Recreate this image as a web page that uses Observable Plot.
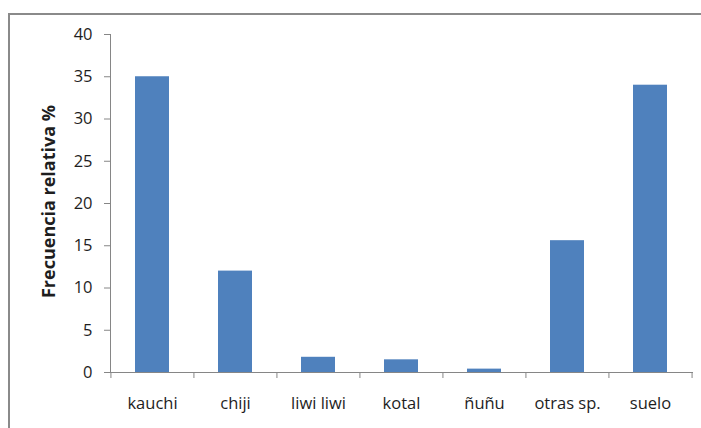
<!DOCTYPE html>
<html>
<head>
<meta charset="utf-8">
<script src="https://cdn.jsdelivr.net/npm/d3@7"></script>
<script src="https://cdn.jsdelivr.net/npm/@observablehq/plot@0.6"></script>
<style>
  html, body { margin: 0; padding: 0; background: #fff; }
  #wrap { position: relative; width: 701px; height: 428px; overflow: hidden; }
  #border {
    position: absolute; left: 8px; top: 13px; width: 800px; height: 500px;
    border-left: 2px solid #8a8a8a; border-top: 2px solid #8a8a8a;
    pointer-events: none;
  }
  #chart { position: absolute; left: 0; top: 0; }
</style>
</head>
<body>
<div id="wrap">
  <div id="chart"></div>
  <div id="border"></div>
</div>
<script>
// Relative frequency (%) per category
const categories = ["kauchi", "chiji", "liwi liwi", "kotal", "ñuñu", "otras sp.", "suelo"];
const values = [35, 12, 1.8, 1.5, 0.4, 15.6, 34.0];
const yTicks = [0, 5, 10, 15, 20, 25, 30, 35, 40];
const yTitle = "Frecuencia relativa %";

const data = categories.map((c, i) => ({cat: c, val: values[i]}));

const W = 701, H = 428;
const mL = 110, mR = 9, mT = 34, mB = 56;
const step = (W - mL - mR) / categories.length;
const axisGray = "#868686";
const textColor = "#1e1e1e";
const tickFont = 16.5;

const chart = Plot.plot({
  width: W,
  height: H,
  marginLeft: mL,
  marginRight: mR,
  marginTop: mT,
  marginBottom: mB,
  style: {fontFamily: "Open Sans", fontSize: "16px", background: "#fff", color: textColor},
  x: {domain: categories, paddingInner: 0.59, paddingOuter: 0.295, label: null},
  y: {domain: [0, 40], label: null},
  marks: [
    Plot.barY(data, {x: "cat", y: "val", fill: "#4F81BD"}),
    Plot.frame({anchor: "left", stroke: axisGray}),
    Plot.frame({anchor: "bottom", stroke: axisGray}),
    Plot.axisY({ticks: yTicks, tickSize: 6, tickPadding: 12, stroke: axisGray, fill: textColor, fontSize: tickFont, label: null}),
    // category labels centred under each bar
    Plot.axisX({tickSize: 0, tickPadding: 25, fill: textColor, fontSize: tickFont, label: null}),
    // tick marks on the boundaries between categories
    Plot.axisX({tickSize: 6, tickFormat: () => "", dx: -step / 2, stroke: axisGray, label: null}),
    Plot.axisX({ticks: [categories[categories.length - 1]], tickSize: 6, tickFormat: () => "", dx: step / 2, stroke: axisGray, label: null}),
    Plot.text([yTitle], {
      frameAnchor: "left", rotate: -90, dx: -61, dy: -2,
      fontWeight: "bold", fontSize: 18, fill: textColor,
      textAnchor: "middle", lineAnchor: "middle"
    })
  ]
});

document.getElementById("chart").appendChild(chart);
</script>
</body>
</html>
